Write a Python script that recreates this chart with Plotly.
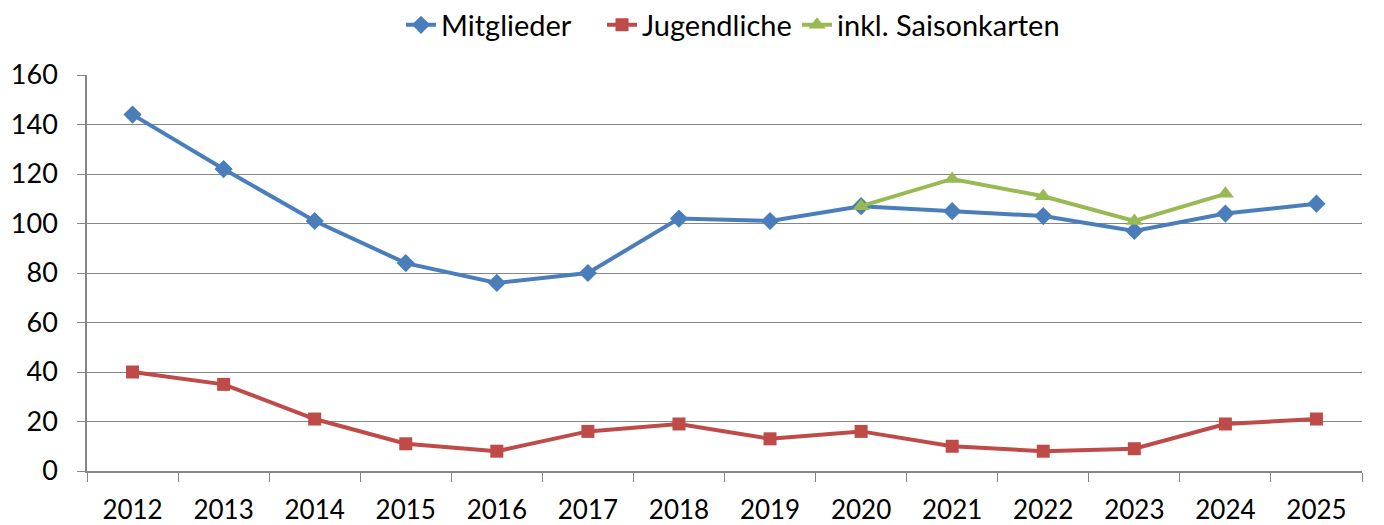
import plotly.graph_objects as go

years = ["2012", "2013", "2014", "2015", "2016", "2017", "2018",
         "2019", "2020", "2021", "2022", "2023", "2024", "2025"]
mitglieder = [144, 122, 101, 84, 76, 80, 102, 101, 107, 105, 103, 97, 104, 108]
jugendliche = [40, 35, 21, 11, 8, 16, 19, 13, 16, 10, 8, 9, 19, 21]
saison_years = ["2020", "2021", "2022", "2023", "2024"]
saisonkarten = [107, 118, 111, 101, 112]

fig = go.Figure()
fig.add_trace(go.Scatter(x=years, y=mitglieder, name="Mitglieder", mode="lines+markers",
                         line=dict(color="#4A7EBB", width=4),
                         marker=dict(symbol="diamond", size=14, color="#4A7EBB"),
                         legend="legend"))
fig.add_trace(go.Scatter(x=years, y=jugendliche, name="Jugendliche", mode="lines+markers",
                         line=dict(color="#BE4B48", width=4),
                         marker=dict(symbol="square", size=13, color="#BE4B48"),
                         legend="legend2"))
fig.add_trace(go.Scatter(x=saison_years, y=saisonkarten, name="inkl. Saisonkarten", mode="lines+markers",
                         line=dict(color="#98B954", width=4),
                         marker=dict(symbol="triangle-up", size=15, color="#98B954"),
                         legend="legend3"))

W, H = 1384, 525
def leg(px):
    return dict(orientation="h", x=px / W, xanchor="left", xref="container",
                y=1 - 17 / H, yanchor="middle", yref="container",
                font=dict(size=29), bgcolor="rgba(0,0,0,0)")

fig.update_layout(
    width=W, height=H,
    margin=dict(l=79, r=30, t=67, b=62, autoexpand=False),
    paper_bgcolor="white", plot_bgcolor="white",
    font=dict(family="Lato, Liberation Sans, sans-serif", size=26, color="black"),
    legend=leg(393), legend2=leg(594), legend3=leg(789),
    showlegend=True,
)
fig.update_xaxes(type="category", range=[-0.5, 13.5], automargin=False,
                 showline=True, linecolor="#868686", linewidth=1.5,
                 ticks="outside", tickson="boundaries", ticklen=9, tickcolor="#868686",
                 ticklabelstandoff=15,
                 showgrid=False, tickfont=dict(size=26))
fig.update_yaxes(range=[0, 160], dtick=20, automargin=False,
                 showline=True, linecolor="#868686", linewidth=1.5,
                 ticks="outside", ticklen=8, tickcolor="#868686",
                 ticklabelstandoff=14,
                 showgrid=True, gridcolor="#868686", gridwidth=1.2, zeroline=False,
                 tickfont=dict(size=27))

fig.write_html("out.html")
